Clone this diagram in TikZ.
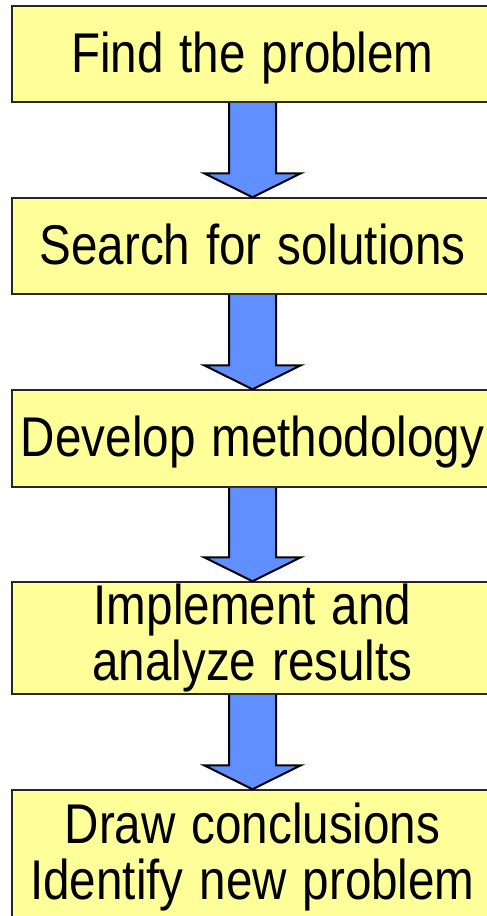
\documentclass[tikz,border=0pt]{standalone}
\usepackage{fontspec}
\setmainfont{Liberation Sans}
\usetikzlibrary{calc}
\definecolor{boxyellow}{RGB}{255,255,153}
\definecolor{arrowblue}{RGB}{96,144,255}
\newcommand\narrowtext[1]{\scalebox{0.85}[1]{#1}}
\newcommand\flowarrow[2]{%
  \draw[blockarrow]
    ($(#1.south)+(-23.5,0)$) -- ($(#2.north)+(-23.5,-24)$)
    -- ($(#2.north)+(-48.5,-24)$) -- (#2.north)
    -- ($(#2.north)+(48.5,-24)$) -- ($(#2.north)+(23.5,-24)$)
    -- ($(#1.south)+(23.5,0)$);}
\begin{document}
\begin{tikzpicture}[x=1pt,y=-1pt,
  stepbox/.style={draw=black!85, line width=1.5pt, fill=boxyellow,
    text width=481pt, inner xsep=0pt, inner ysep=0pt,
    font=\fontsize{56}{56.5}\selectfont, align=center},
  oneline/.style={text height=42pt, text depth=6pt},
  blockarrow/.style={draw=black, line width=2pt, fill=arrowblue, line join=miter}]
\useasboundingbox (0,0) rectangle (487,916);
\clip (0,0) rectangle (487,916);
\node[stepbox, oneline, minimum height=96pt] (b1) at (252.5,54) {\narrowtext{Find the problem}};
\node[stepbox, oneline, minimum height=96pt] (b2) at (252.5,246) {\narrowtext{Search for solutions}};
\node[stepbox, oneline, minimum height=97pt] (b3) at (252.5,438.5) {\narrowtext{Develop methodology}};
\node[stepbox, minimum height=112pt] (b4) at (252.5,638) {\narrowtext{Implement and}\\\narrowtext{analyze results}};
\node[stepbox, minimum height=134pt] (b5) at (252.5,857) {\narrowtext{Draw conclusions}\\\narrowtext{Identify new problem}};
\flowarrow{b1}{b2}
\flowarrow{b2}{b3}
\flowarrow{b3}{b4}
\flowarrow{b4}{b5}
\end{tikzpicture}
\end{document}
